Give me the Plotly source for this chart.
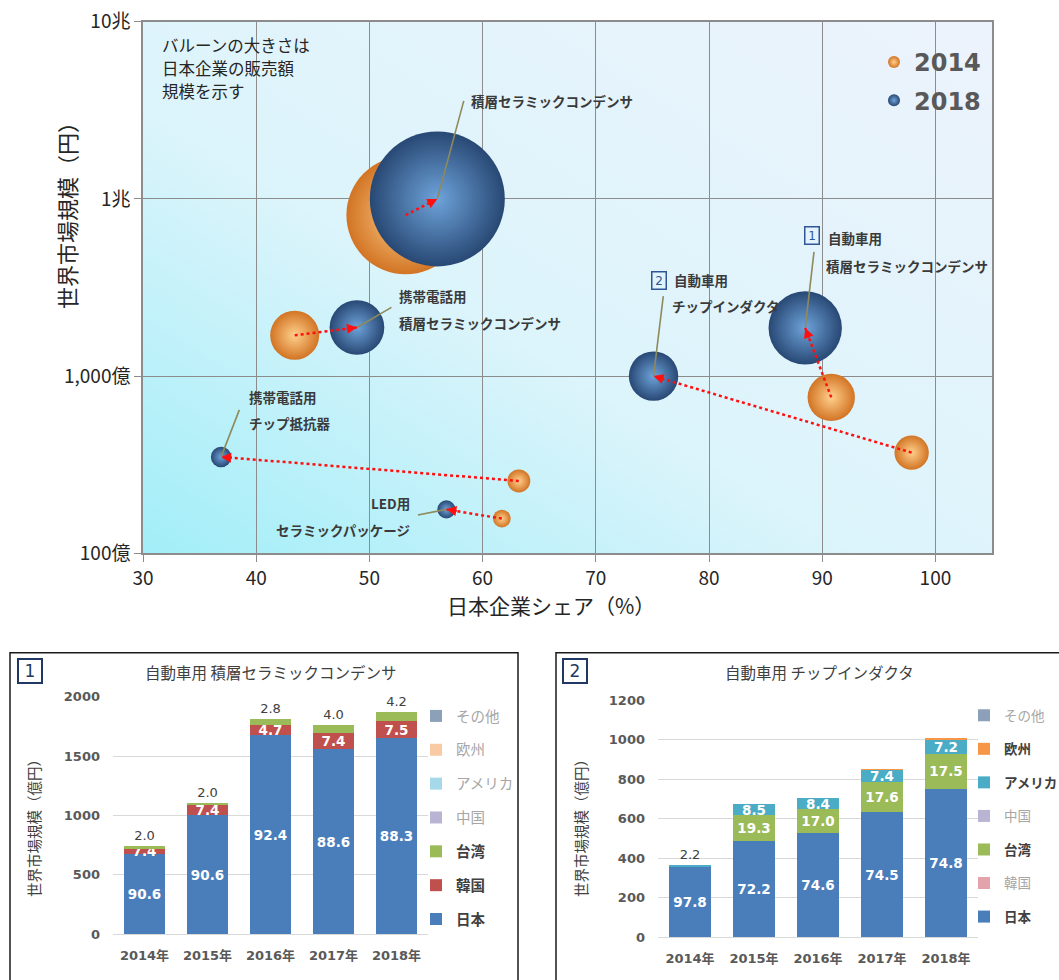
import base64
import numpy as np
import plotly.graph_objects as go

# ---------------- DATA ----------------
# Bubble chart (x: Japanese company share %, y: world market size in 億円)
bubble_items = ["積層セラミックコンデンサ", "携帯電話用 積層セラミックコンデンサ", "携帯電話用 チップ抵抗器",
                "LED用 セラミックパッケージ", "自動車用 チップインダクタ", "自動車用 積層セラミックコンデンサ"]
share_2014 = [53.2, 43.4, 63.2, 61.7, 97.9, 90.8]
market_2014 = [8100, 1700, 256, 157, 370, 758]
share_2018 = [56.0, 48.9, 36.9, 56.8, 75.1, 88.5]
market_2018 = [10000, 1880, 350, 177, 1000, 1870]

bubble_xticks = [30, 40, 50, 60, 70, 80, 90, 100]
bubble_yticks = [100, 1000, 10000, 100000]
bubble_yticktext = ["100億", "1,000億", "1兆", "10兆"]

years = ["2014年", "2015年", "2016年", "2017年", "2018年"]
regions = ["日本", "韓国", "台湾", "中国", "アメリカ", "欧州", "その他"]

# Chart 1: 自動車用 積層セラミックコンデンサ (total 億円, shares %)
mlcc_total = [743, 1108, 1812, 1762, 1871]
mlcc_japan = [90.6, 90.6, 92.4, 88.6, 88.3]
mlcc_korea = [7.4, 7.4, 4.7, 7.4, 7.5]
mlcc_taiwan = [2.0, 2.0, 2.8, 4.0, 4.2]

# Chart 2: 自動車用 チップインダクタ
ind_total = [364, 674, 706, 851, 1005]
ind_japan = [97.8, 72.2, 74.6, 74.5, 74.8]
ind_taiwan = [None, 19.3, 17.0, 17.6, 17.5]
ind_usa = [2.2, 8.5, 8.4, 7.4, 7.2]
ind_europe = [None, None, None, 0.5, 0.5]

# ---------------- LAYOUT GEOMETRY ----------------
W, H = 1059, 980
top_x = (143 / W, 992 / W)
top_y = (1 - 553.3 / H, 1 - 21.7 / H)
c1_x = (113 / W, 428 / W)
c1_y = (1 - 934.3 / H, 1 - 696.7 / H)
c2_x = (658 / W, 978 / W)
c2_y = (1 - 937.3 / H, 1 - 700 / H)
x_range = [30, 105]
y_range_log = [2, 5]

JP = "Noto Sans CJK JP"
VB = "DejaVu Sans, Noto Sans CJK JP"

fig = go.Figure()

# ---------- gradient background of bubble plot ----------
svg = ('<svg xmlns="http://www.w3.org/2000/svg" viewBox="0 0 100 100" preserveAspectRatio="none">'
       '<defs><linearGradient id="g" x1="0" y1="1" x2="1" y2="0">'
       '<stop offset="0" stop-color="#a2eef8"/><stop offset="0.42" stop-color="#dcf4fb"/>'
       '<stop offset="1" stop-color="#edf3fc"/></linearGradient></defs>'
       '<rect width="100" height="100" fill="url(#g)"/></svg>')
bg_src = "data:image/svg+xml;base64," + base64.b64encode(svg.encode()).decode()

# ---------- bubbles ----------
sales_2014 = [s * m / 100 for s, m in zip(share_2014, market_2014)]
sales_2018 = [s * m / 100 for s, m in zip(share_2018, market_2018)]
max_diam = 135
sizeref = 2 * max(sales_2014 + sales_2018) / max_diam ** 2

fig.add_trace(go.Scatter(
    x=share_2014, y=market_2014, mode="markers", name="<b>2014</b>",
    marker=dict(size=sales_2014, sizemode="area", sizeref=sizeref, color="#d27424", opacity=1,
                gradient=dict(type="radial", color="#ffd08c"), line=dict(width=0)),
    legend="legend", legendgroup="a", hoverinfo="skip"))
fig.add_trace(go.Scatter(
    x=share_2018, y=market_2018, mode="markers", name="<b>2018</b>",
    marker=dict(size=sales_2018, sizemode="area", sizeref=sizeref, color="#284874", opacity=1,
                gradient=dict(type="radial", color="#6ea3da"), line=dict(width=0)),
    legend="legend", legendgroup="b", hoverinfo="skip"))

# dotted movement lines
for i in range(len(bubble_items)):
    fig.add_trace(go.Scatter(
        x=[share_2014[i], share_2018[i]], y=[market_2014[i], market_2018[i]],
        mode="lines", line=dict(color="#ff1010", width=2.5, dash="dot"),
        showlegend=False, hoverinfo="skip"))

annotations = []
plot_w_px = (top_x[1] - top_x[0]) * W
plot_h_px = (top_y[1] - top_y[0]) * H
px_per_x = plot_w_px / (x_range[1] - x_range[0])
px_per_dec = plot_h_px / (y_range_log[1] - y_range_log[0])
for i in range(len(bubble_items)):
    dx = (share_2014[i] - share_2018[i]) * px_per_x
    dy = (np.log10(market_2018[i]) - np.log10(market_2014[i])) * px_per_dec
    L = np.hypot(dx, dy)
    annotations.append(dict(
        x=share_2018[i], y=np.log10(market_2018[i]), xref="x", yref="y",
        ax=dx / L * 12, ay=dy / L * 12, text="", showarrow=True,
        arrowhead=2, arrowsize=1, arrowwidth=2, arrowcolor="#ff1010", standoff=0))

# callouts (leader offsets and text offsets in pixels relative to 2018 bubble)
callout_lines = [
    ["積層セラミックコンデンサ"],
    ["携帯電話用", "積層セラミックコンデンサ"],
    ["携帯電話用", "チップ抵抗器"],
    ["LED用", "セラミックパッケージ"],
    ["自動車用", "チップインダクタ"],
    ["自動車用", "積層セラミックコンデンサ"],
]
callout_geom = [
    dict(leader=(27, -100), pos=[(32, 98)], anchor="left"),
    dict(leader=(36, -21), pos=[(40, 32), (40, 5)], anchor="left"),
    dict(leader=(19, -49), pos=[(26, 60), (26, 34)], anchor="left"),
    dict(leader=(-30, 6), pos=[(-34, 6), (-34, -21)], anchor="right"),
    dict(leader=(10, -82), pos=[(18, 96), (16, 70)], anchor="left", box=("2", 5, 96)),
    dict(leader=(9, -78), pos=[(21, 90), (19, 62)], anchor="left", box=("1", 7, 92)),
]
leader_col = "#8f8a5c"
for i, g in enumerate(callout_geom):
    px, py = share_2018[i], np.log10(market_2018[i])
    annotations.append(dict(
        x=px, y=py, xref="x", yref="y", ax=g["leader"][0], ay=g["leader"][1],
        text=" ", font=dict(size=1), showarrow=True, arrowhead=0,
        arrowwidth=1.6, arrowcolor=leader_col, standoff=0))
    for txt, (xs, ys) in zip(callout_lines[i], g["pos"]):
        annotations.append(dict(
            x=px, y=py, xref="x", yref="y", text="<b>" + txt + "</b>", showarrow=False,
            xanchor=g["anchor"], yanchor="middle", xshift=xs, yshift=ys,
            font=dict(family=JP, size=13.5, color="#3a3a3a")))
    if "box" in g:
        num, xs, ys = g["box"]
        annotations.append(dict(
            x=px, y=py, xref="x", yref="y", text=num, showarrow=False,
            xanchor="center", yanchor="middle", xshift=xs, yshift=ys,
            font=dict(family=VB, size=12, color="#2f5597"),
            bordercolor="#2f5597", borderwidth=1.5, borderpad=1, width=11, height=14))


def paper_text(x, y, text, size, color, angle=0, family=JP, xanchor="center", **kw):
    return dict(xref="paper", yref="paper", x=x / W, y=1 - y / H, text=text, textangle=angle,
                xanchor=xanchor, yanchor="middle", showarrow=False,
                font=dict(family=family, size=size, color=color), **kw)


# note and axis titles
note_lines = ["バルーンの大きさは", "日本企業の販売額", "規模を示す"]
for k, t in enumerate(note_lines):
    annotations.append(paper_text(160, 45 + 23 * k, t, 16.5, "#262626", xanchor="left"))
annotations += [
    paper_text(66, 210, "世界市場規模（円）", 22, "#262626", angle=-90),
    paper_text(551, 605, "日本企業シェア（%）", 21, "#262626"),
]

# ---------- bar charts ----------
faded_txt = "#a6a6a6"
dark_txt = "#404040"
rank = [0]


def add_stack(xa, ya, legend, prefix, name, total, shares, color, active, modes):
    if shares is None:
        shares = [None] * len(years)
    heights = [None if s is None else t * s / 100 for t, s in zip(total, shares)]
    texts, pos, cols, sizes = [], [], [], []
    for s, m in zip(shares, modes):
        if s is None or m is None:
            texts.append(""); pos.append("none"); cols.append(dark_txt); sizes.append(13)
        elif m == "in":
            texts.append("<b>%.1f</b>" % s); pos.append("inside"); cols.append("white"); sizes.append(13.5)
        else:
            texts.append("%.1f" % s); pos.append("outside"); cols.append(dark_txt); sizes.append(13)
    label = ("<b>%s</b>" % name) if active else "<span style='color:%s'>%s</span>" % (faded_txt, name)
    rank[0] += 1
    fig.add_trace(go.Bar(
        x=years, y=heights, name=label, marker=dict(color=color, line=dict(width=0)),
        text=texts, textposition=pos, insidetextanchor="middle", textangle=0,
        textfont=dict(family=VB, size=sizes, color=cols), constraintext="none",
        cliponaxis=False, xaxis=xa, yaxis=ya, legend=legend,
        legendgroup=prefix + name, legendrank=1000 - rank[0], hoverinfo="skip"))


IN5 = ["in"] * 5
OUT5 = ["out"] * 5
# chart 1
add_stack("x2", "y2", "legend2", "c1", "日本", mlcc_total, mlcc_japan, "#4a7ebb", True, IN5)
add_stack("x2", "y2", "legend2", "c1", "韓国", mlcc_total, mlcc_korea, "#c0504d", True, IN5)
add_stack("x2", "y2", "legend2", "c1", "台湾", mlcc_total, mlcc_taiwan, "#9bbb59", True, OUT5)
add_stack("x2", "y2", "legend2", "c1", "中国", mlcc_total, None, "#b9b4d3", False, IN5)
add_stack("x2", "y2", "legend2", "c1", "アメリカ", mlcc_total, None, "#a5d8e8", False, IN5)
add_stack("x2", "y2", "legend2", "c1", "欧州", mlcc_total, None, "#f9cba4", False, IN5)
add_stack("x2", "y2", "legend2", "c1", "その他", mlcc_total, None, "#8da0b9", False, IN5)
# chart 2
add_stack("x3", "y3", "legend3", "c2", "日本", ind_total, ind_japan, "#4a7ebb", True, IN5)
add_stack("x3", "y3", "legend3", "c2", "韓国", ind_total, None, "#e3a3ab", False, IN5)
add_stack("x3", "y3", "legend3", "c2", "台湾", ind_total, ind_taiwan, "#9bbb59", True, IN5)
add_stack("x3", "y3", "legend3", "c2", "中国", ind_total, None, "#b9b4d3", False, IN5)
add_stack("x3", "y3", "legend3", "c2", "アメリカ", ind_total, ind_usa, "#4bacc6", True,
          ["out", "in", "in", "in", "in"])
add_stack("x3", "y3", "legend3", "c2", "欧州", ind_total, ind_europe, "#f79646", True, [None] * 5)
add_stack("x3", "y3", "legend3", "c2", "その他", ind_total, None, "#8da0b9", False, IN5)

# bar chart titles, number boxes, y titles
annotations += [
    paper_text(270, 672, "自動車用 積層セラミックコンデンサ", 15.5, dark_txt),
    paper_text(819, 672, "自動車用 チップインダクタ", 15.5, dark_txt),
    paper_text(30, 671, "1", 17, "#1f3864", family=VB, bordercolor="#1f3864", borderwidth=2,
               borderpad=1, width=20, height=20),
    paper_text(575, 671, "2", 17, "#1f3864", family=VB, bordercolor="#1f3864", borderwidth=2,
               borderpad=1, width=20, height=20),
    paper_text(33, 825, "世界市場規模（億円）", 14.5, dark_txt, angle=-90),
    paper_text(580, 825, "世界市場規模（億円）", 14.5, dark_txt, angle=-90),
]

shapes = [
    dict(type="rect", xref="paper", yref="paper", x0=10 / W, x1=518 / W, y0=-0.05, y1=1 - 652.7 / H,
         line=dict(color="#1a1a1a", width=1.5)),
    dict(type="rect", xref="paper", yref="paper", x0=556 / W, x1=1.05, y0=-0.05, y1=1 - 652.7 / H,
         line=dict(color="#1a1a1a", width=1.5)),
]

grid_top = "#8c8c8c"
bar_tick = dict(family=VB, size=13, color="#595959", weight="bold")
fig.update_layout(
    width=W, height=H, autosize=False, margin=dict(l=0, r=0, t=0, b=0, autoexpand=False),
    paper_bgcolor="white", plot_bgcolor="rgba(0,0,0,0)",
    barmode="stack", bargap=0.34, showlegend=True,
    font=dict(family=JP, color="#262626"),
    images=[dict(source=bg_src, xref="paper", yref="paper", x=top_x[0], y=top_y[1],
                 sizex=top_x[1] - top_x[0], sizey=top_y[1] - top_y[0], xanchor="left",
                 yanchor="top", sizing="stretch", layer="below")],
    xaxis=dict(domain=top_x, range=x_range, tickvals=bubble_xticks, showgrid=True,
               gridcolor=grid_top, gridwidth=1.1, showline=True, mirror=True, linecolor=grid_top,
               linewidth=1.5, ticks="outside", ticklen=7, tickcolor=grid_top, zeroline=False,
               tickfont=dict(family=JP, size=19, color="#262626"), anchor="y", automargin=False),
    yaxis=dict(domain=top_y, type="log", range=y_range_log, tickvals=bubble_yticks,
               ticktext=bubble_yticktext, showgrid=True, gridcolor=grid_top, gridwidth=1.1,
               showline=True, mirror=True, linecolor=grid_top, linewidth=1.5, ticks="outside",
               ticklen=7, tickcolor=grid_top, zeroline=False,
               tickfont=dict(family=JP, size=19, color="#262626"), anchor="x", automargin=False),
    xaxis2=dict(domain=c1_x, anchor="y2", showgrid=False, showline=False, ticks="",
                tickfont=bar_tick, ticklabelstandoff=12, automargin=False),
    yaxis2=dict(domain=c1_y, anchor="x2", range=[0, 2000], dtick=500, showgrid=True,
                gridcolor="#d9d9d9", zeroline=True, zerolinecolor="#d9d9d9", zerolinewidth=1,
                showline=False, ticks="", tickfont=bar_tick, ticklabelstandoff=12, automargin=False),
    xaxis3=dict(domain=c2_x, anchor="y3", showgrid=False, showline=False, ticks="",
                tickfont=bar_tick, ticklabelstandoff=12, automargin=False),
    yaxis3=dict(domain=c2_y, anchor="x3", range=[0, 1200], dtick=200, showgrid=True,
                gridcolor="#d9d9d9", zeroline=True, zerolinecolor="#d9d9d9", zerolinewidth=1,
                showline=False, ticks="", tickfont=bar_tick, ticklabelstandoff=12, automargin=False),
    legend=dict(x=874 / W, y=1 - 40 / H, xanchor="left", yanchor="top", bgcolor="rgba(0,0,0,0)",
                font=dict(family=VB, size=24, color="#595959"), itemsizing="constant",
                traceorder="grouped", tracegroupgap=4),
    legend2=dict(x=416 / W, y=1 - 700 / H, xanchor="left", yanchor="top", bgcolor="rgba(0,0,0,0)",
                 font=dict(family=JP, size=14.5, color=dark_txt), traceorder="grouped",
                 tracegroupgap=12),
    legend3=dict(x=964 / W, y=1 - 700 / H, xanchor="left", yanchor="top", bgcolor="rgba(0,0,0,0)",
                 font=dict(family=JP, size=13.5, color=dark_txt), traceorder="grouped",
                 tracegroupgap=13),
    annotations=annotations, shapes=shapes,
)

fig.write_html("out.html")
